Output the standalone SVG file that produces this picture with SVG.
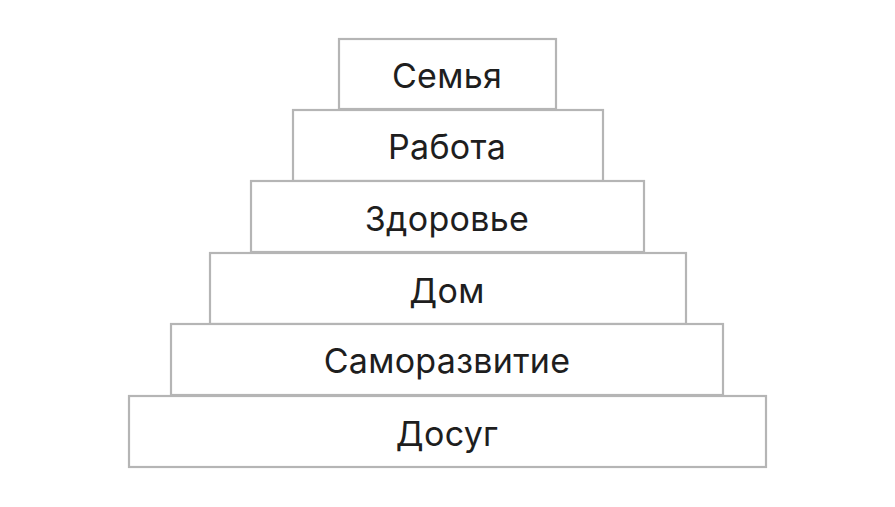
<svg xmlns="http://www.w3.org/2000/svg" width="895" height="507" viewBox="0 0 895 507">
<style>
.b{fill:#fff;stroke:#b5b5b5;stroke-width:2.2}
.t{font-family:Inter,Roboto,"Liberation Sans",sans-serif;font-size:34px;fill:#1e1e1e;text-anchor:middle;dominant-baseline:central;letter-spacing:0.3px}
</style>
<rect width="895" height="507" fill="#fff"/>
<g id="n1"><rect class="b" x="339" y="39" width="217" height="70"/><text class="t" x="447" y="75">Семья</text></g>
<g id="n2"><rect class="b" x="293" y="110" width="310" height="71"/><text class="t" x="447" y="146">Работа</text></g>
<g id="n3"><rect class="b" x="251" y="181" width="393" height="71"/><text class="t" x="447" y="218">Здоровье</text></g>
<g id="n4"><rect class="b" x="210" y="253" width="476" height="71"/><text class="t" x="447" y="290">Дом</text></g>
<g id="n5"><rect class="b" x="171" y="324" width="552" height="71"/><text class="t" x="447" y="360">Саморазвитие</text></g>
<g id="n6"><rect class="b" x="129" y="396" width="637" height="71"/><text class="t" x="447" y="433">Досуг</text></g>
<g id="connectors"/>
</svg>
